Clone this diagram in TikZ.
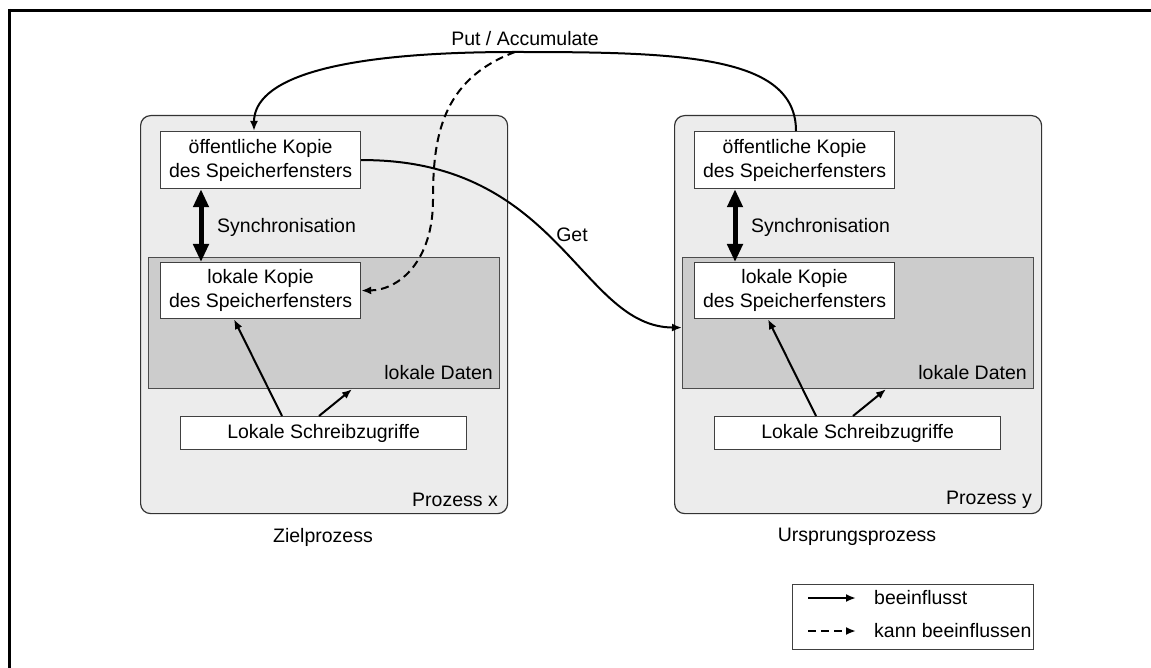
\documentclass[tikz,border=0pt]{standalone}
\usepackage{fontspec}
\setmainfont{Liberation Sans}
\usetikzlibrary{arrows.meta,calc}
\begin{document}
\begin{tikzpicture}[x=1pt,y=-1pt,
  txt/.style={font=\fontsize{19.5}{24}\selectfont, inner sep=0pt},
  procbox/.style={draw=black!80, fill=gray!15, line width=1.2pt, rounded corners=10pt,
    anchor=north west, inner sep=0pt, minimum width=367pt, minimum height=398pt},
  databox/.style={draw=black!70, fill=gray!40, line width=1.2pt,
    anchor=north west, inner sep=0pt, minimum width=351pt, minimum height=131pt},
  winbox/.style={txt, draw=black!75, fill=white, line width=1.2pt, align=center,
    anchor=north west, minimum width=200pt, minimum height=57pt},
  accbox/.style={txt, draw=black!75, fill=white, line width=1.2pt,
    anchor=north west, minimum width=286pt, minimum height=33pt},
  flow/.style={line width=2pt, -{Latex[length=10pt,width=8pt]}},
  mayflow/.style={flow, dash pattern=on 8pt off 5pt},
  syncarrow/.style={line width=5pt, {Triangle[length=18pt,width=15pt]}-{Triangle[length=18pt,width=15pt]}}
]
\useasboundingbox (0,0) rectangle (1151,668);

% frame
\draw[line width=3pt] (9.3,10.5) -- (1160,10.5);
\draw[line width=3pt] (9.3,9) -- (9.3,680);

% two processes, each with its window copies and local data
\foreach \p/\dx/\who/\role in {x/0/x/Zielprozess, y/534/y/Ursprungsprozess}{
  \node[procbox] (proc\p) at (140+\dx,115) {};
  \node[databox] (dat\p) at (148+\dx,257) {};
  \node[winbox] (pub\p) at (160+\dx,131) {öffentliche Kopie\\des Speicherfensters};
  \node[winbox, minimum height=56pt] (lok\p) at (160+\dx,262) {lokale Kopie\\des Speicherfensters};
  \node[accbox] (acc\p) at (180+\dx,416) {Lokale Schreibzugriffe};
  \node[txt, anchor=west] (syn\p) at (217+\dx,227) {Synchronisation};
  \node[txt, anchor=east] (dlab\p) at (493+\dx,373) {lokale Daten};
  \node[txt, anchor=east] (plab\p) at (498+\dx,500) {Prozess \who};
  \node[txt] (role\p) at (323+\dx,537) {\role};

  \draw[syncarrow] ($(pub\p.south west)+(41,0)$) -- ($(lok\p.north west)+(41,0)$);
  \draw[flow] ($(acc\p.north west)+(102,0)$) -- ($(lok\p.south west)+(74,0)$);
  \draw[flow] ($(acc\p.north west)+(139,0)$) -- ($(dat\p.south west)+(204,0)$);
}

% one-sided communication
\coordinate (peak) at (515,52);
\draw[flow] ($(puby.north west)+(102,0)$) .. controls (796,55) and (680,52) .. (peak)
  .. controls (330,52) and (254,80) .. ($(pubx.north west)+(94,0)$);
\node[txt] (putlab) at (525,39) {Put / Accumulate};

\draw[mayflow] (peak) .. controls (440,80) and (433,140) .. (433,200)
  .. controls (433,260) and (400,290) .. (lokx.east);

\draw[flow] (pubx.east) .. controls (560,159) and (580,327) .. ($(daty.west)+(0,4.5)$);
\node[txt] (getlab) at (572,235) {Get};

% legend
\node[draw=black!75, line width=1.2pt, anchor=north west, inner sep=0pt,
  minimum width=241pt, minimum height=65pt] (legend) at (792,584) {};
\coordinate (l1a) at (808,598);
\coordinate (l1b) at (856,598);
\coordinate (l2a) at (808,631);
\coordinate (l2b) at (856,631);
\draw[flow] (l1a) -- (l1b);
\draw[mayflow] (l2a) -- (l2b);
\node[txt, anchor=west] (leg1) at (874,598) {beeinflusst};
\node[txt, anchor=west] (leg2) at (874,631) {kann beeinflussen};
\end{tikzpicture}
\end{document}
